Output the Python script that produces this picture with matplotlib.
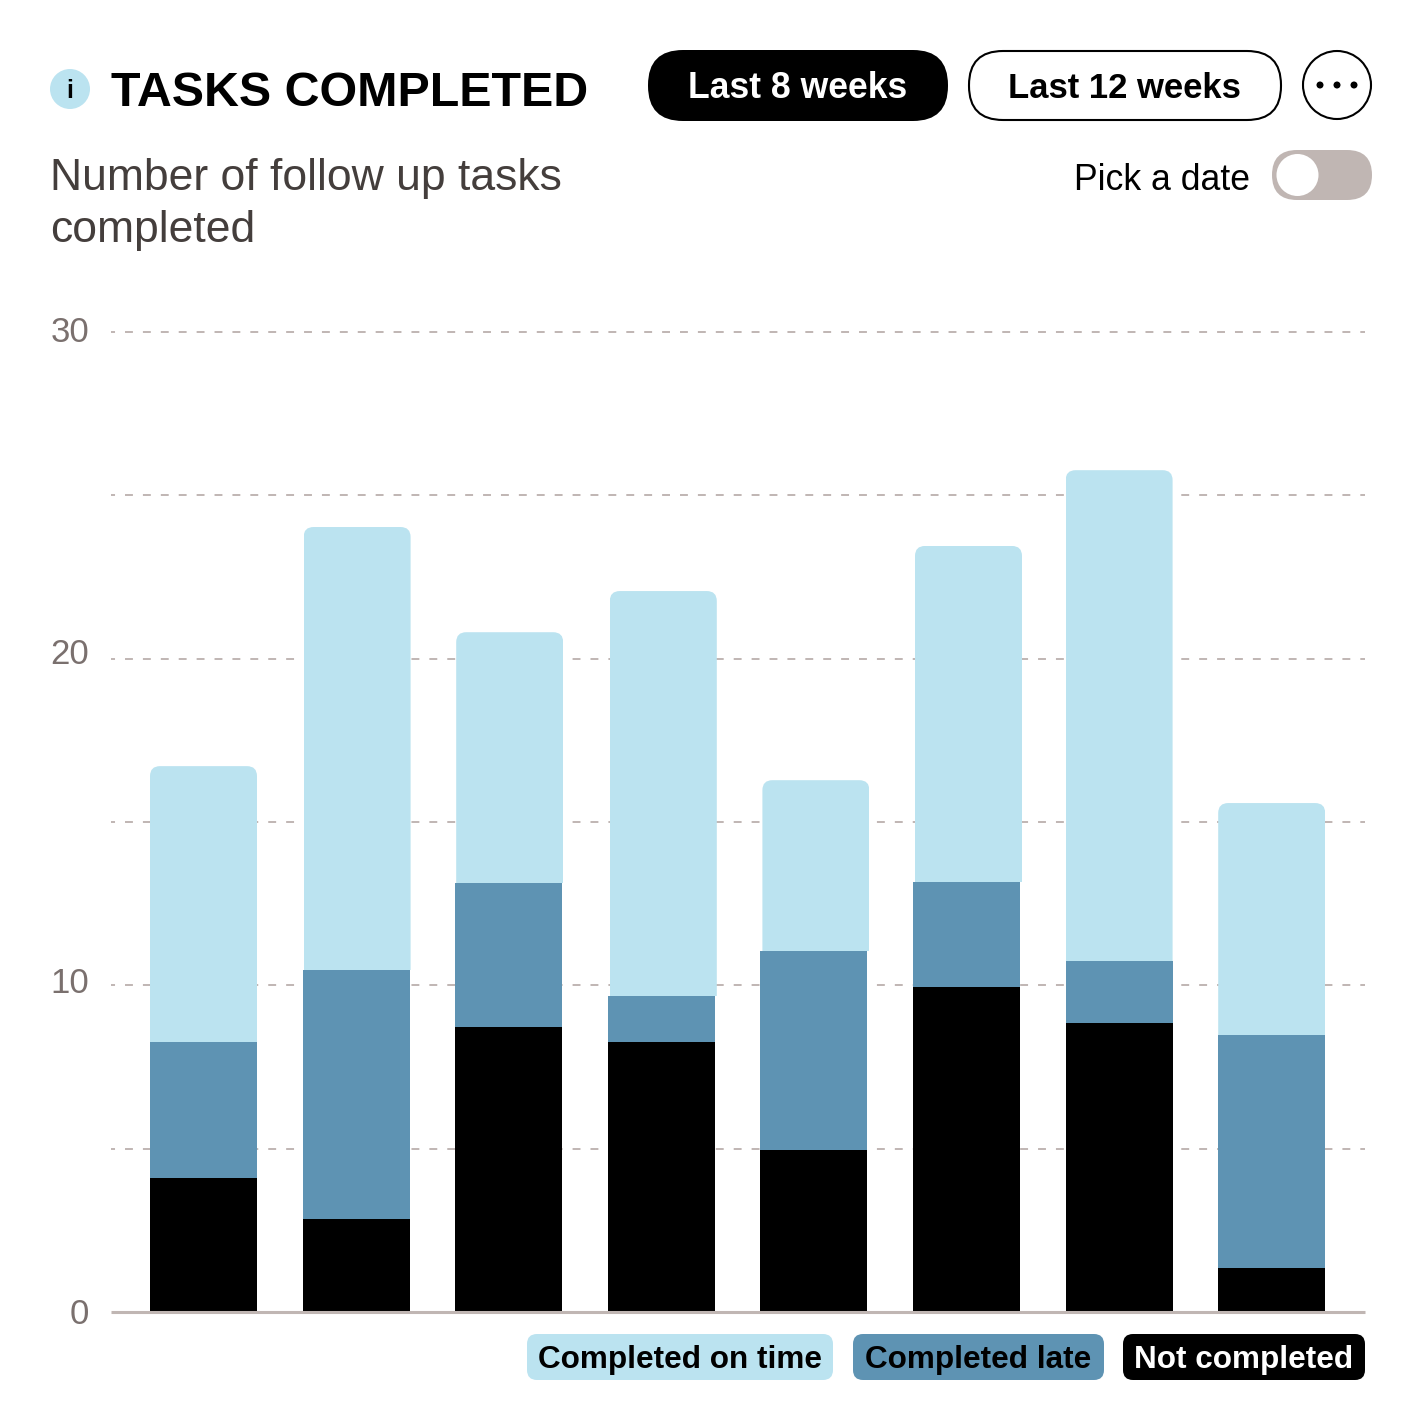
import matplotlib
matplotlib.use("Agg")
import matplotlib.pyplot as plt
from matplotlib.patches import FancyBboxPatch, Circle

plt.rcParams["font.family"] = ["Liberation Sans", "DejaVu Sans"]
plt.rcParams["lines.scale_dashes"] = False

W, H = 1423, 1420
LIGHT = "#BBE3F0"; MID = "#5E93B3"; BLACK = "#000000"; STONE = "#C0B6B3"

# segment heights
not_completed = [4.10, 2.85, 8.72, 8.26, 4.96, 9.95, 8.85, 1.35]
completed_late = [4.16, 7.62, 4.41, 1.41, 6.09, 3.21, 1.89, 7.13]
completed_on_time = [8.45, 13.56, 7.68, 12.40, 5.23, 10.29, 15.03, 7.10]
weeks = list(range(8))
grid_values = [5, 10, 15, 20, 25, 30]
y_ticks = [0, 10, 20, 30]
y_tick_baselines = [1324, 993, 664, 342]   # labels sit a bit off their lines in the source
top_nudge_px = [0, 1, 1, 2, 2, 2, 0, 0]    # light segments are slightly shifted

PX = 152.6  # px per category

fig = plt.figure(figsize=(W / 100, H / 100), dpi=100, facecolor="white")
ax = fig.add_axes([111 / W, (H - 1312) / H, (1365 - 111) / W, 980 / H])
ax.set_xlim(-(203.5 - 111) / PX, 7 + (1365 - 1271.7) / PX)
ax.set_ylim(0, 30)
for s in ["top", "left", "right"]:
    ax.spines[s].set_visible(False)
ax.spines["bottom"].set_color(STONE)
ax.spines["bottom"].set_linewidth(2.2)
ax.spines["bottom"].set_capstyle("butt")
ax.spines["bottom"].set_zorder(5)
ax.set_xticks([]); ax.set_yticks([])
for v in grid_values:
    ax.axhline(v, color=STONE, lw=1.4, ls=(2.8, (5.69, 7.2)), zorder=1, clip_on=False)

bw = 107 / PX
ax.bar(weeks, not_completed, width=bw, color=BLACK, zorder=3)
bottom2 = [a for a in not_completed]
ax.bar(weeks, completed_late, width=bw, bottom=bottom2, color=MID, zorder=3)
bottom3 = [a + b for a, b in zip(not_completed, completed_late)]
top_x = [x + n / PX for x, n in zip(weeks, top_nudge_px)]
top_bars = ax.bar(top_x, completed_on_time, width=bw, bottom=bottom3, color=LIGHT, zorder=2.5)

# overlay in image pixels for the header furniture
ui = fig.add_axes([0, 0, 1, 1], zorder=10)
ui.set_xlim(0, W); ui.set_ylim(H, 0); ui.axis("off"); ui.patch.set_alpha(0)


def pill(x0, y0, x1, y1, r, fc, ec="none", lw=0):
    p = FancyBboxPatch((x0, y0), x1 - x0, y1 - y0, boxstyle=f"round,pad=0,rounding_size={r}",
                       fc=fc, ec=ec, lw=lw, mutation_aspect=1)
    ui.add_patch(p)
    return p


# round the top corners of the stacks
fig.canvas.draw()
for r in top_bars:
    (x0, y0), (x1, y1) = ax.transData.transform([(r.get_x(), r.get_y()), (r.get_x() + r.get_width(), r.get_y() + r.get_height())])
    clip = FancyBboxPatch((x0, y0 - 30), x1 - x0, y1 - y0 + 30, boxstyle="round,pad=0,rounding_size=10",
                          transform=None)
    r.set_clip_path(clip)

ui.add_patch(Circle((70, 89), 20, fc=LIGHT, ec="none"))
ui.text(70, 98, "i", ha="center", va="baseline", fontsize=18, fontweight="bold", color=BLACK)
ui.text(111, 106, "TASKS COMPLETED", ha="left", va="baseline", fontsize=34.8, fontweight="bold", color=BLACK)
ui.text(50, 190, "Number of follow up tasks", ha="left", va="baseline", fontsize=32, color="#443E3C")
ui.text(50, 242, "completed", ha="left", va="baseline", fontsize=32, color="#443E3C")

pill(648, 50, 948, 121, 35, BLACK)
ui.text(798, 98, "Last 8 weeks", ha="center", va="baseline", fontsize=25.6, fontweight="bold", color="white")
pill(969, 51, 1281, 120, 34, "white", BLACK, 1.5)
ui.text(1124, 98, "Last 12 weeks", ha="center", va="baseline", fontsize=24.9, fontweight="bold", color=BLACK)
ui.add_patch(Circle((1337, 85), 34, fc="white", ec=BLACK, lw=1.5))
for dx in [-17, 0, 17]:
    ui.add_patch(Circle((1337 + dx, 85), 3.5, fc=BLACK, ec="none"))

ui.text(1250, 190, "Pick a date", ha="right", va="baseline", fontsize=25.7, color=BLACK)
pill(1272, 150, 1372, 200, 25, STONE)
ui.add_patch(Circle((1297.5, 175), 21, fc="white", ec="none"))

for v, yb in zip(y_ticks, y_tick_baselines):
    ui.text(89, yb, str(v), ha="right", va="baseline", fontsize=25, color="#7A706E")

legend_labels = ["Completed on time", "Completed late", "Not completed"]
legend_spans = [(527, 833), (853, 1104), (1123, 1365)]
legend_colors = [(LIGHT, BLACK), (MID, BLACK), (BLACK, "white")]
for lab, (x0, x1), (fc, tc) in zip(legend_labels, legend_spans, legend_colors):
    pill(x0, 1334, x1, 1380, 10, fc)
    ui.text((x0 + x1) / 2, 1368, lab, ha="center", va="baseline", fontsize=22.7, fontweight="bold", color=tc)

fig.savefig("out.png", dpi=100)
